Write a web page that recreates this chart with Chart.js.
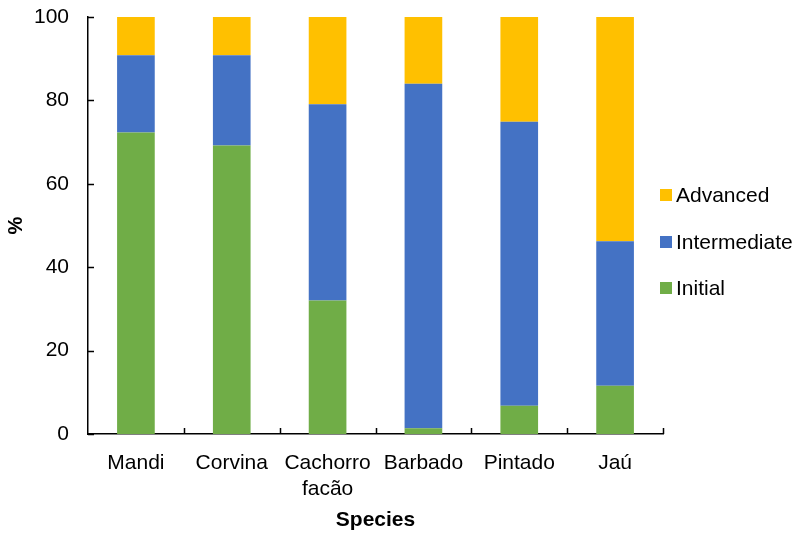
<!DOCTYPE html>
<html>
<head>
<meta charset="utf-8">
<script src="https://cdn.jsdelivr.net/npm/chart.js@4/dist/chart.umd.min.js"></script>
<style>
    html, body { margin: 0; padding: 0; background: #fff; }
    #wrap { width: 799px; height: 533px; }
</style>
</head>
<body>
<div id="wrap"><canvas id="chart" width="799" height="533"></canvas></div>
<script>
// Datos (%)
const species = ['Mandi', 'Corvina', ['Cachorro', 'facão'], 'Barbado', 'Pintado', 'Jaú'];
const initial = [72.3, 69.2, 32.0, 1.4, 6.8, 11.6];
const intermediate = [18.5, 21.6, 47.1, 82.6, 68.1, 34.6];
const advanced = [9.2, 9.2, 20.9, 16.0, 25.1, 53.8];
const yTicks = [0, 20, 40, 60, 80, 100];

const FONT = 'Arial, "Liberation Sans", sans-serif';

// ticks hacia dentro, como en Excel
const innerTicks = {
    id: 'innerTicks',
    afterDraw(chart) {
        const ctx = chart.ctx;
        const { x, y } = chart.scales;
        ctx.save();
        ctx.strokeStyle = '#000';
        ctx.lineWidth = 1.5;
        ctx.beginPath();
        yTicks.forEach(v => {
            const py = Math.round(y.getPixelForValue(v)) + 0.5;
            ctx.moveTo(x.left, py);
            ctx.lineTo(x.left + 6, py);
        });
        for (let i = 1; i <= species.length; i++) {
            const px = Math.round(x.getPixelForValue(i - 0.5)) + 0.5;
            ctx.moveTo(px, y.bottom);
            ctx.lineTo(px, y.bottom - 6);
        }
        ctx.stroke();
        ctx.restore();
    }
};

const sideLegend = {
    id: 'sideLegend',
    afterDraw(chart) {
        const ctx = chart.ctx;
        const rows = [2, 1, 0];
        const centersY = [195, 242, 288];
        ctx.save();
        ctx.font = '21px ' + FONT;
        ctx.textBaseline = 'middle';
        rows.forEach((di, i) => {
            const ds = chart.data.datasets[di];
            ctx.fillStyle = ds.backgroundColor;
            ctx.fillRect(chart.chartArea.right - 3, centersY[i] - 6, 12, 12);
            ctx.fillStyle = '#000';
            ctx.fillText(ds.label, chart.chartArea.right + 13, centersY[i] + 1);
        });
        ctx.restore();
    }
};

function buildDataset(label, data, color) {
    return {
        label,
        data,
        backgroundColor: color,
        borderWidth: 0,
        categoryPercentage: 1,
        barPercentage: 0.393
    };
}

new Chart(document.getElementById('chart'), {
    type: 'bar',
    data: {
        labels: species,
        datasets: [
            buildDataset('Initial', initial, '#70AD47'),
            buildDataset('Intermediate', intermediate, '#4472C4'),
            buildDataset('Advanced', advanced, '#FFC000')
        ]
    },
    options: {
        responsive: false,
        animation: false,
        layout: { padding: { top: 17, right: 136, bottom: 0, left: 0 } },
        plugins: {
            legend: { display: false },
            tooltip: { enabled: false }
        },
        scales: {
            x: {
                stacked: true,
                grid: { display: false, drawTicks: false },
                border: { display: true, color: '#000', width: 1.5 },
                ticks: { color: '#000', font: { family: FONT, size: 21 }, padding: 17, maxRotation: 0, autoSkip: false },
                title: {
                    display: true,
                    text: 'Species',
                    color: '#000',
                    font: { family: FONT, size: 21, weight: 'bold' },
                    padding: { top: 11, bottom: 0 }
                },
                afterFit: scale => { scale.height = 99; scale.paddingLeft = 0; scale.paddingRight = 0; }
            },
            y: {
                stacked: true,
                min: 0,
                max: 100,
                afterBuildTicks: scale => { scale.ticks = yTicks.map(v => ({ value: v })); },
                grid: { display: false, drawTicks: false },
                border: { display: true, color: '#000', width: 1.5 },
                ticks: { color: '#000', font: { family: FONT, size: 21 }, padding: 19 },
                title: {
                    display: true,
                    text: '%',
                    color: '#000',
                    font: { family: FONT, size: 20, weight: 'bold' },
                    padding: { top: 4, bottom: 4 }
                },
                afterFit: scale => { scale.width = 88; scale.paddingTop = 0; scale.paddingBottom = 0; }
            }
        }
    },
    plugins: [innerTicks, sideLegend]
});
</script>
</body>
</html>
